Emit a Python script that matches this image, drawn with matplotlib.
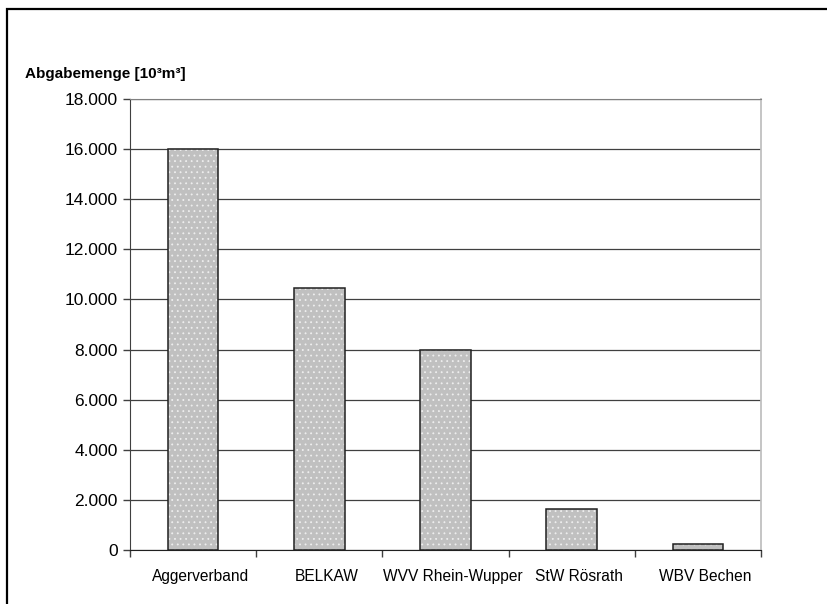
import matplotlib.pyplot as plt
import matplotlib.transforms as mtransforms
from matplotlib.patches import Rectangle
from matplotlib.ticker import FuncFormatter, FixedLocator

plt.rcParams['font.family'] = ['Liberation Sans', 'DejaVu Sans']
plt.rcParams['hatch.linewidth'] = 0.6

suppliers = ["Aggerverband", "BELKAW", "WVV Rhein-Wupper", "StW Rösrath", "WBV Bechen"]
volumes = [16000, 10450, 8000, 1650, 240]
y_ticks = [0, 2000, 4000, 6000, 8000, 10000, 12000, 14000, 16000, 18000]

fig = plt.figure(figsize=(8.27, 6.04), dpi=100)
ax = fig.add_axes([0.1572, 0.0894, 0.763, 0.7467])

# outer frame, runs off the right and bottom edge
fig.patches.append(Rectangle((6.5 / 827, -0.1), 1.2, 1 - 8.5 / 604 + 0.1,
                             transform=fig.transFigure, fill=False,
                             edgecolor="black", linewidth=1.6, zorder=0))

centers = [i + 0.5 for i in range(len(suppliers))]

ax.set_axisbelow(True)
ax.grid(axis="y", color="#404040", linewidth=0.9)

# dotted gray fill, then the black outline on top
ax.bar(centers, volumes, width=0.4, color="#c0c0c0", hatch="...",
       edgecolor="#eeeeee", linewidth=0, zorder=2)
ax.bar(centers, volumes, width=0.4, fill=False, edgecolor="#202020",
       linewidth=1.1, zorder=3)

ax.set_xlim(0, len(suppliers))
ax.set_ylim(0, 18000)

ax.yaxis.set_major_locator(FixedLocator(y_ticks))
ax.yaxis.set_major_formatter(FuncFormatter(lambda v, p: f"{int(v):,}".replace(",", ".")))

ax.set_xticks(range(len(suppliers) + 1))
ax.set_xticklabels([])
ax.set_xticks(centers, minor=True)
ax.set_xticklabels(suppliers, minor=True)
ax.tick_params(axis="x", which="minor", length=0, pad=14, labelsize=11.2)
ax.tick_params(axis="x", which="major", length=5, color="#404040", width=1)
ax.tick_params(axis="y", length=5, color="#404040", width=1, labelsize=12.5, pad=4)

# category labels sit a little right of the bar centres
shift = mtransforms.ScaledTranslation(7 / 100, 0, fig.dpi_scale_trans)
for lbl in ax.get_xticklabels(minor=True):
    lbl.set_transform(lbl.get_transform() + shift)

ax.spines["left"].set_color("#404040")
ax.spines["bottom"].set_color("#202020")
ax.spines["top"].set_color("#808080")
ax.spines["right"].set_color("#c0c0c0")
ax.spines["right"].set_linewidth(1.3)

fig.text(25 / 827, 1 - 74 / 604, "Abgabemenge [10³m³]", fontsize=11,
         fontweight="bold", va="center", ha="left")

fig.savefig("out.png", dpi=100)
